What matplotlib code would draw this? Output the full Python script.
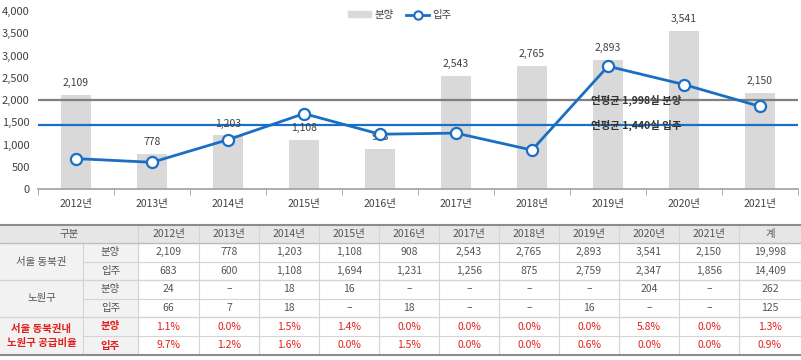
import matplotlib
matplotlib.use("Agg")
import matplotlib.pyplot as plt
from matplotlib.patches import Rectangle
from matplotlib.lines import Line2D
from matplotlib.ticker import FuncFormatter, MultipleLocator

plt.rcParams['font.family'] = ['Noto Sans CJK KR', 'DejaVu Sans']

years = ['2012년', '2013년', '2014년', '2015년', '2016년', '2017년', '2018년', '2019년', '2020년', '2021년']
bunyang = [2109, 778, 1203, 1108, 908, 2543, 2765, 2893, 3541, 2150]
ipju = [683, 600, 1108, 1694, 1231, 1256, 875, 2759, 2347, 1856]
avg_bunyang = 1999.8
avg_ipju = 1440.9
avg_bunyang_label = '연평균 1,998실 분양'
avg_ipju_label = '연평균 1,440실 입주'

table_header = ['구분', '', '2012년', '2013년', '2014년', '2015년', '2016년', '2017년', '2018년', '2019년', '2020년', '2021년', '계']
group_labels = ['서울 동북권', '노원구', '서울 동북권내\n노원구 공급비율']
sub_labels = ['분양', '입주']
table_rows = [
    ['2,109', '778', '1,203', '1,108', '908', '2,543', '2,765', '2,893', '3,541', '2,150', '19,998'],
    ['683', '600', '1,108', '1,694', '1,231', '1,256', '875', '2,759', '2,347', '1,856', '14,409'],
    ['24', '–', '18', '16', '–', '–', '–', '–', '204', '–', '262'],
    ['66', '7', '18', '–', '18', '–', '–', '16', '–', '–', '125'],
    ['1.1%', '0.0%', '1.5%', '1.4%', '0.0%', '0.0%', '0.0%', '0.0%', '5.8%', '0.0%', '1.3%'],
    ['9.7%', '1.2%', '1.6%', '0.0%', '1.5%', '0.0%', '0.0%', '0.6%', '0.0%', '0.0%', '0.9%'],
]

W, H = 801, 360
fig = plt.figure(figsize=(W / 100, H / 100), dpi=100)

# ---------------- chart ----------------
ax = fig.add_axes([38 / W, (H - 189) / H, (798 - 38) / W, (189 - 11) / H])
x = list(range(len(years)))
bar_color = '#d9d9d9'
line_color = '#1a6fc4'
ax.bar(x, bunyang, width=0.4, color=bar_color, zorder=1)
for xi, v in zip(x, bunyang):
    ax.annotate(f'{v:,}', (xi, v), xytext=(0, 5), textcoords='offset points',
                ha='center', va='bottom', fontsize=7.5, color='#404040')
ax.axhline(avg_bunyang, color='#7f7f7f', lw=1.6, zorder=2)
ax.axhline(avg_ipju, color=line_color, lw=1.6, zorder=2)
ax.plot(x, ipju, color=line_color, lw=2, marker='o', markersize=8,
        markerfacecolor='white', markeredgecolor=line_color, markeredgewidth=1.6, zorder=4)
ax.text(7.37, avg_bunyang, avg_bunyang_label, ha='center', va='center',
        fontsize=7.5, color='#333333', fontweight='bold', zorder=3)
ax.text(7.37, avg_ipju, avg_ipju_label, ha='center', va='center',
        fontsize=7.5, color='#333333', fontweight='bold', zorder=3)

ax.set_xlim(-0.5, len(years) - 0.5)
ax.set_ylim(0, 4000)
ax.yaxis.set_major_locator(MultipleLocator(500))
ax.yaxis.set_major_formatter(FuncFormatter(lambda v, p: f'{int(v):,}'))
ax.set_xticks(x)
ax.set_xticklabels(years)
ax.set_xticks([i - 0.5 for i in range(len(years) + 1)], minor=True)
ax.tick_params(axis='x', which='major', length=0, labelsize=7.5, labelcolor='#404040', pad=7)
ax.tick_params(axis='x', which='minor', length=4, color='#a0a0a0', direction='out')
ax.tick_params(axis='y', length=0, labelsize=8, labelcolor='#404040', pad=6)
for s in ['left', 'right', 'top']:
    ax.spines[s].set_visible(False)
ax.spines['bottom'].set_color('#a0a0a0')
ax.spines['bottom'].set_linewidth(1.2)

handles = [Rectangle((0, 0), 1, 1, color=bar_color),
           Line2D([], [], color=line_color, lw=2, marker='o', markersize=6,
                  markerfacecolor='white', markeredgecolor=line_color, markeredgewidth=1.5)]
fig.legend(handles, ['분양', '입주'], loc='center', bbox_to_anchor=(400 / W, (H - 15) / H),
           ncol=2, frameon=False, fontsize=7.5, handlelength=2.2, handleheight=0.5,
           columnspacing=1.2, handletextpad=0.3, labelcolor='#404040')

# ---------------- table ----------------
col_edges = [0, 83, 138, 199, 259, 319, 379, 439, 499, 559, 619, 679, 739, 801]
row_edges = [224.5, 243, 261.5, 280, 298.5, 317, 336, 355]
tax = fig.add_axes([0, 0, 1, 1])
tax.set_xlim(0, W)
tax.set_ylim(H, 0)
tax.axis('off')

red = '#e0201c'
txt = '#555555'
header_bg = '#e6e6e6'
label_bg = '#f2f2f2'
grid = '#d4d4d4'

tax.add_patch(Rectangle((col_edges[0], row_edges[0]), col_edges[-1] - col_edges[0],
                        row_edges[1] - row_edges[0], color=header_bg, zorder=0))
tax.add_patch(Rectangle((col_edges[0], row_edges[1]), col_edges[2] - col_edges[0],
                        row_edges[-1] - row_edges[1], color=label_bg, zorder=0))

for i, y in enumerate(row_edges):
    if i == 0 or i == len(row_edges) - 1:
        tax.plot([0, W], [y, y], color='#8c8c8c', lw=1.5, zorder=2)
    elif i == 1:
        tax.plot([0, W], [y, y], color='#bdbdbd', lw=1.0, zorder=2)
    elif i in (3, 5):
        tax.plot([0, W], [y, y], color=grid, lw=1.0, zorder=2)
    else:
        tax.plot([col_edges[1], W], [y, y], color=grid, lw=0.8, zorder=2)
for j, xe in enumerate(col_edges[1:-1], start=1):
    if j == 1:
        tax.plot([xe, xe], [row_edges[1], row_edges[-1]], color=grid, lw=0.8, zorder=1)
    else:
        tax.plot([xe, xe], [row_edges[0], row_edges[-1]], color=grid, lw=0.8, zorder=1)

fs = 7.5
tax.text((col_edges[0] + col_edges[2]) / 2, (row_edges[0] + row_edges[1]) / 2, table_header[0],
         ha='center', va='center', fontsize=fs, color=txt)
for j in range(2, len(table_header)):
    tax.text((col_edges[j] + col_edges[j + 1]) / 2, (row_edges[0] + row_edges[1]) / 2,
             table_header[j], ha='center', va='center', fontsize=fs, color=txt)

for g, lab in enumerate(group_labels):
    r0 = 1 + 2 * g
    yc = (row_edges[r0] + row_edges[r0 + 2]) / 2
    is_red = g == 2
    tax.text((col_edges[0] + col_edges[1]) / 2, yc, lab, ha='center', va='center',
             fontsize=fs, color=red if is_red else txt, fontweight='bold' if is_red else 'normal',
             linespacing=1.5)
    for k, sl in enumerate(sub_labels):
        r = r0 + k
        tax.text((col_edges[1] + col_edges[2]) / 2, (row_edges[r] + row_edges[r + 1]) / 2, sl,
                 ha='center', va='center', fontsize=fs, color=red if is_red else txt,
                 fontweight='bold' if is_red else 'normal')

for r, row in enumerate(table_rows):
    is_red = r >= 4
    yc = (row_edges[r + 1] + row_edges[r + 2]) / 2
    for j, val in enumerate(row):
        c = j + 2
        tax.text((col_edges[c] + col_edges[c + 1]) / 2, yc, val, ha='center', va='center',
                 fontsize=fs, color=red if is_red else txt)

fig.savefig('out.png', dpi=100)
